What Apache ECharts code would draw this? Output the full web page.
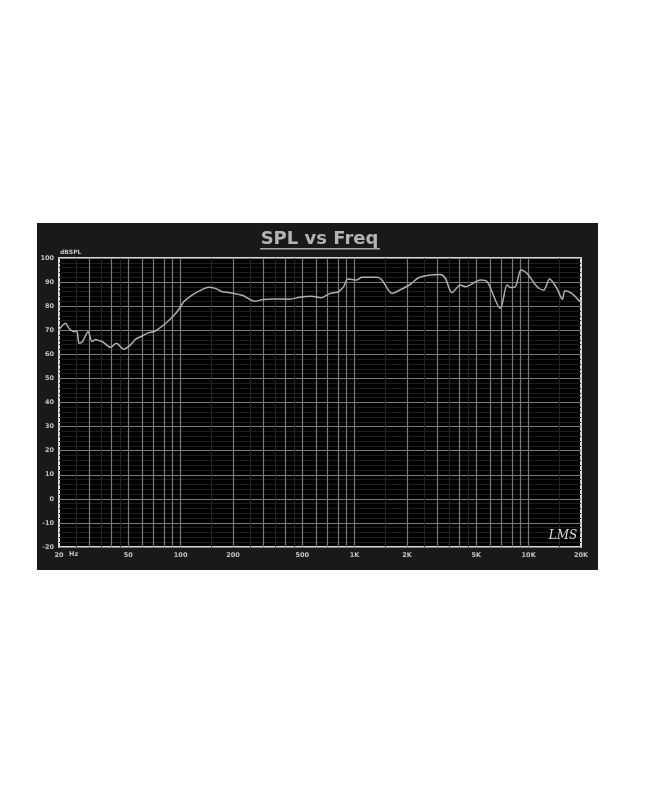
<!DOCTYPE html>
<html>
<head>
<meta charset="utf-8">
<script src="https://cdn.jsdelivr.net/npm/echarts@6/dist/echarts.min.js"></script>
<style>
html,body{margin:0;padding:0;background:#fff;}
#chart{width:650px;height:794px;}
</style>
</head>
<body>
<div id="chart"></div>
<script>
// ---- data ----
const freqs = [20,21.8,22.8,24.4,25.3,26.1,27.3,29.4,31.0,32.5,33.9,35.5,39.6,42.7,47.2,51.5,55.0,60.1,65.6,71.9,82.8,91.9,97.8,104.5,116.3,133.4,145,158,173,192,228,267,298,344,424,483,566,643,722,809,865,913,1030,1100,1344,1435,1640,1830,2090,2333,2724,3110,3320,3630,4050,4330,5290,5780,6880,7520,7860,8400,9050,9800,11180,12200,13200,14530,15630,16200,17700,19740,20000];
const splDb = [70.1,72.9,70.8,69.4,69.8,64.6,65.3,69.4,65.3,66.2,65.7,65.3,62.9,64.6,62.1,63.9,66.2,67.6,69.0,69.8,73.1,76.3,78.7,81.9,84.6,87.0,87.9,87.4,86.0,85.6,84.4,82.0,82.8,83.0,82.9,83.7,84.1,83.5,85.3,86.0,88.1,91.3,90.9,92.0,92.0,90.9,85.3,86.8,89.1,91.8,92.9,93.2,91.6,85.6,88.8,88.1,90.9,90.2,79.1,88.8,87.7,88.1,95.0,93.6,88.1,86.7,91.3,87.4,82.9,86.4,85.3,81.9,81.5];
const xTickFreqs = [20,50,100,200,500,1000,2000,5000,10000,20000];
const xTickLabels = ['20','50','100','200','500','1K','2K','5K','10K','20K'];
const gridFreqs = [30,40,50,60,70,80,90,100,200,300,400,500,600,700,800,900,1000,2000,3000,4000,5000,6000,7000,8000,9000,10000];
const minorFreqs = [25,35,45,150,250,350,450,1500,2500,3500,4500,15000];
const yMin = -20, yMax = 100, yStep = 10;
const titleText = 'SPL vs Freq';
const yUnit = 'dBSPL';

const chart = echarts.init(document.getElementById('chart'), null, {renderer:'canvas'});
const lf = 'DejaVu Sans';
const labelColor = '#c4c4c4';
const tickLog = xTickFreqs.map(f => Math.log10(f));
function labelFor(v){
  for (let i=0;i<tickLog.length;i++){ if (Math.abs(tickLog[i]-v) < 1e-6) return xTickLabels[i]; }
  return '';
}
const option = {
  backgroundColor: '#ffffff',
  animation: false,
  graphic: [
    {type:'rect', z:-10, shape:{x:37,y:223,width:561,height:347}, style:{fill:'#191919'}},
    {type:'text', z:10, x:319.5, y:248, style:{text:titleText, fill:'#b4b4b4', font:'bold 18px "DejaVu Sans"', align:'center', verticalAlign:'bottom'}},
    {type:'rect', z:10, shape:{x:260,y:248,width:120,height:1.6}, style:{fill:'#a8a8a8'}},
    {type:'text', z:10, x:60, y:252, style:{text:yUnit, fill:labelColor, font:'bold 6px "DejaVu Sans"', align:'left', verticalAlign:'middle'}},
    {type:'text', z:10, x:69, y:554, style:{text:'Hz', fill:labelColor, font:'bold 6.5px "DejaVu Sans"', align:'left', verticalAlign:'middle'}},
    {type:'text', z:10, x:563, y:536, style:{text:'LMS', fill:'#dddddd', font:'italic 12px "DejaVu Serif"', align:'center', verticalAlign:'middle'}}
  ],
  grid: {left:59, top:258, width:522, height:289, show:true, backgroundColor:'#000', borderColor:'#d8d8d8', borderWidth:2},
  xAxis: [
    {type:'log', logBase:10, min:20, max:20000, gridIndex:0,
     axisLine:{show:false}, axisTick:{show:false}, axisLabel:{show:false}, splitLine:{show:false}},
    {type:'value', min:Math.log10(20), max:Math.log10(20000), gridIndex:0, position:'bottom',
     axisLine:{show:false}, axisTick:{show:false}, splitLine:{show:false},
     axisLabel:{show:true, customValues:tickLog, formatter:labelFor, color:labelColor, fontFamily:lf, fontWeight:'bold', fontSize:6.5, margin:5, showMinLabel:true, showMaxLabel:true}}
  ],
  yAxis: {type:'value', min:yMin, max:yMax, interval:yStep,
    axisLine:{show:false}, axisTick:{show:false},
    axisLabel:{color:labelColor, fontFamily:lf, fontWeight:'bold', fontSize:6.5, margin:5},
    splitLine:{show:true, lineStyle:{color:'#7a7a7a', width:1.2}},
    minorTick:{show:false, splitNumber:5},
    minorSplitLine:{show:true, lineStyle:{color:'#1e1e1e', width:1}}
  },
  series: [
    {type:'line', xAxisIndex:0, data:[], z:1, silent:true,
     markLine:{silent:true, symbol:'none', animation:false, label:{show:false},
       lineStyle:{color:'#262626', type:'solid', width:1},
       data: minorFreqs.map(f => ({xAxis:f}))}},
    {type:'line', xAxisIndex:0, data:[], z:2, silent:true,
     markLine:{silent:true, symbol:'none', animation:false, label:{show:false},
       lineStyle:{color:'#7a7a7a', type:'solid', width:1.2},
       data: gridFreqs.map(f => ({xAxis:f}))}},
    {type:'line', xAxisIndex:0, z:5, symbol:'none', smooth:0.3,
     lineStyle:{color:'#b0b0b0', width:1.5},
     data: freqs.map((f,i) => [f, splDb[i]])}
  ]
};
chart.setOption(option);
</script>
</body>
</html>
